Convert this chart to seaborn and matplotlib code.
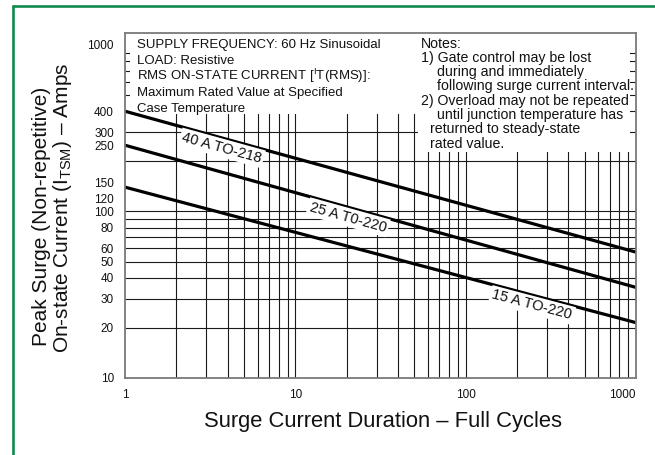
import math
import numpy as np
import pandas as pd
import matplotlib
matplotlib.use("Agg")
import matplotlib.pyplot as plt
import seaborn as sns
from matplotlib.patches import Rectangle
from matplotlib.lines import Line2D
from matplotlib.ticker import FixedLocator, NullLocator, NullFormatter

# Surge duration (full cycles) and peak non-repetitive surge current (A)
cycles = [1, 1000]
surge_40a_to218 = [400, 57]
surge_25a_to220 = [250, 35]
surge_15a_to220 = [140, 21.5]
curve_labels = ["40 A TO-218", "25 A T0-220", "15 A TO-220"]
label_at_cycles = [3.7, 20.4, 245]

x_ticks = [1, 10, 100, 1000]
y_ticks = [10, 20, 30, 40, 50, 60, 80, 100, 120, 150, 250, 300, 400, 1000]
x_grid = [k * 10 ** e for e in range(0, 3) for k in range(1, 10)][1:]
y_grid = [k * 10 ** e for e in range(1, 3) for k in range(1, 10)][1:]

conditions = [
    "SUPPLY FREQUENCY: 60 Hz Sinusoidal",
    "LOAD: Resistive",
    r"RMS ON-STATE CURRENT [$^{\mathregular{I}}$T(RMS)]:",
    "Maximum Rated Value at Specified",
    "Case Temperature",
]
notes = [
    ("Notes:", 0),
    ("1) Gate control may be lost", 0),
    ("during and immediately", 1),
    ("following surge current interval.", 1),
    ("2) Overload may not be repeated", 0),
    ("until junction temperature has", 1),
    ("returned to steady-state", 2),
    ("rated value.", 2),
]

W, H = 655, 455
sns.set_theme(style="white")
plt.rcParams["font.family"] = ["Liberation Sans", "DejaVu Sans"]
plt.rcParams["mathtext.fontset"] = "custom"
plt.rcParams["mathtext.rm"] = "Liberation Sans"


def fx(px):
    return px / W


def fy(py):
    return 1 - py / H


fig = plt.figure(figsize=(W / 100, H / 100), dpi=100)
fig.patch.set_facecolor("white")
ax = fig.add_axes([fx(125), fy(378), (636 - 125) / W, (378 - 33) / H])
ax.set_xscale("log")
ax.set_yscale("log")
ax.set_xlim(1, 1000)
ax.set_ylim(10, 1180)
ax.set_facecolor("white")

# log grid, full decades and their subdivisions
ax.vlines(x_grid, 10, 1180, colors="#1a1a1a", linewidth=0.8, zorder=0.5)
ax.hlines(y_grid, 1, 1000, colors="#1a1a1a", linewidth=0.8, zorder=0.5)

# white panels for the condition text and the notes
for (x0, y0, x1, y1) in [(130, 33, 418, 113.5), (418, 33, 630, 152)]:
    ax.add_patch(Rectangle((fx(x0), fy(y1)), (x1 - x0) / W, (y1 - y0) / H,
                           transform=fig.transFigure, facecolor="white",
                           edgecolor="none", zorder=1))

series = [surge_40a_to218, surge_25a_to220, surge_15a_to220]
df = pd.concat([pd.DataFrame({"cycles": cycles, "amps": s, "device": lab})
                for s, lab in zip(series, curve_labels)])
sns.lineplot(data=df, x="cycles", y="amps", hue="device",
             palette=["black"] * 3, linewidth=2.3, legend=False, ax=ax,
             zorder=3)

for spine in ax.spines.values():
    spine.set_color("#7a7a7a")
    spine.set_linewidth(1.3)
    spine.set_zorder(4)

ax.xaxis.set_major_locator(FixedLocator(x_ticks))
ax.yaxis.set_major_locator(FixedLocator(y_ticks))
ax.xaxis.set_minor_locator(NullLocator())
ax.yaxis.set_minor_locator(NullLocator())
ax.xaxis.set_minor_formatter(NullFormatter())
ax.yaxis.set_minor_formatter(NullFormatter())
ax.set_xticklabels([str(v) for v in x_ticks])
ax.set_yticklabels([str(v) for v in y_ticks])
ax.tick_params(axis="both", length=0, labelsize=8.5, colors="#111111")
ax.tick_params(axis="y", pad=8)
ax.tick_params(axis="x", pad=8)
ax.get_xticklabels()[-1].set_horizontalalignment("right")
ax.set_xlabel("")
ax.set_ylabel("")

# curve labels, rotated along each line and set just below it
for s, lab, xl in zip(series, curve_labels, label_at_cycles):
    t = math.log10(xl / cycles[0]) / math.log10(cycles[1] / cycles[0])
    yl = 10 ** (math.log10(s[0]) + t * (math.log10(s[1]) - math.log10(s[0])))
    p0 = ax.transData.transform((cycles[0], s[0]))
    p1 = ax.transData.transform((cycles[1], s[1]))
    ang = math.degrees(math.atan2(p1[1] - p0[1], p1[0] - p0[0]))
    ax.annotate(lab, (xl, yl), xytext=(0, -7.2), textcoords="offset points",
                rotation=ang, rotation_mode="anchor", ha="center",
                va="center", fontsize=10.5, color="#111111", zorder=5,
                bbox=dict(boxstyle="square,pad=0.15", fc="white", ec="none"))

for i, line in enumerate(conditions):
    fig.text(fx(137), fy(43.5 + 16 * i + 4.2), line, fontsize=9.5,
             color="#111111", va="baseline", ha="left", zorder=6)

indent = {0: 420.7, 1: 437.3, 2: 430}
for i, (line, lvl) in enumerate(notes):
    fig.text(fx(indent[lvl]), fy(43.3 + 14.3 * i + 4.2), line, fontsize=10.2,
             color="#111111", va="baseline", ha="left", zorder=6)

fig.text(fx(383), fy(426.7), "Surge Current Duration \u2013 Full Cycles",
         fontsize=15.8, color="#111111", ha="center", va="baseline")
fig.text(fx(42), fy(216), "Peak Surge (Non-repetitive)", rotation=90,
         fontsize=15, color="#111111", ha="center", va="center")
fig.text(fx(63), fy(208),
         "On-state Current (I$_{\\mathregular{TSM}}$) \u2013 Amps",
         rotation=90, fontsize=15, color="#111111", ha="center", va="center")

# green frame on the top and left
green = "#12894d"
fig.add_artist(Line2D([fx(12.7), 1.0], [fy(6), fy(6)], color=green,
                      linewidth=1.9, transform=fig.transFigure))
fig.add_artist(Line2D([fx(12.7), fx(12.7)], [fy(6), 0.0], color=green,
                      linewidth=1.9, transform=fig.transFigure))

fig.savefig("out.png", dpi=100, facecolor="white")
